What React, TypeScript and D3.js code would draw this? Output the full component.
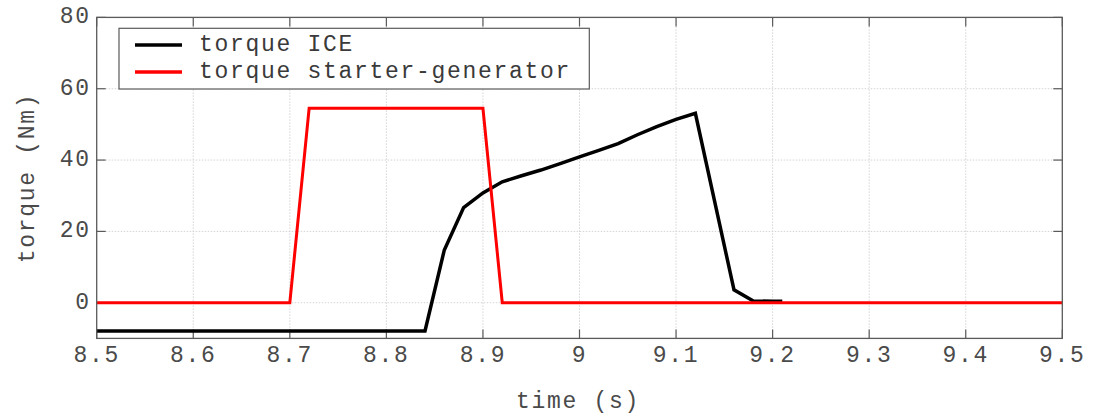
import React from "react";
import * as d3 from "d3";

const xTicks = [8.5, 8.6, 8.7, 8.8, 8.9, 9.0, 9.1, 9.2, 9.3, 9.4, 9.5];
const xTickLabels = ["8.5", "8.6", "8.7", "8.8", "8.9", "9", "9.1", "9.2", "9.3", "9.4", "9.5"];
const yTicks = [0, 20, 40, 60, 80];
const yTickLabels = ["0", "20", "40", "60", "80"];

const iceTime = [8.5, 8.84, 8.86, 8.88, 8.9, 8.92, 8.94, 8.96, 8.98, 9.0, 9.02, 9.04, 9.06, 9.08, 9.1, 9.12, 9.16, 9.18, 9.2, 9.21];
const iceTorque = [-7.9, -7.9, 14.8, 26.7, 30.8, 33.9, 35.6, 37.2, 39.0, 40.9, 42.7, 44.6, 47.1, 49.4, 51.4, 53.1, 3.6, 0.5, 0.4, 0.4];

const sgTime = [8.5, 8.7, 8.72, 8.9, 8.92, 9.5];
const sgTorque = [0, 0, 54.5, 54.5, 0, 0];

const seriesNames = ["torque ICE", "torque starter-generator"];
const seriesColors = ["#000000", "#ff0000"];

export default function App() {
  const W = 1100, H = 415;
  const left = 96.7, right = 1062.3, top = 17.4, bottom = 338.4;
  const x = d3.scaleLinear().domain([8.5, 9.5]).range([left, right]);
  const y = d3.scaleLinear().domain([-10, 80]).range([bottom, top]);
  const line = d3.line<[number, number]>().x(d => x(d[0])).y(d => y(d[1]));
  const iceData: [number, number][] = iceTime.map((t, i) => [t, iceTorque[i]]);
  const sgData: [number, number][] = sgTime.map((t, i) => [t, sgTorque[i]]);
  const font = "'Liberation Mono', 'DejaVu Sans Mono', monospace";
  const axisColor = "#5a5a5a";
  const textColor = "#4a4a4a";
  const ls = 1.7;
  const tickLen = 9;
  const legendX = 119, legendY = 28.3, legendW = 470.3, legendH = 60.7;
  const rowY = [45, 72];

  return (
    <svg width={W} height={H} style={{ position: "absolute", left: 0, top: 0, background: "#fff" }}>
      <rect x={0} y={0} width={W} height={H} fill="#fff" />
      {/* grid */}
      {xTicks.slice(1, -1).map((t, i) => (
        <line key={"gx" + i} x1={x(t)} x2={x(t)} y1={top} y2={bottom} stroke="#d4d4d4" strokeWidth={1} strokeDasharray="1.5,1.5" />
      ))}
      {yTicks.slice(0, -1).map((v, i) => (
        <line key={"gy" + i} x1={left} x2={right} y1={y(v)} y2={y(v)} stroke="#d4d4d4" strokeWidth={1} strokeDasharray="1.5,1.5" />
      ))}
      {/* ticks */}
      {xTicks.map((t, i) => (
        <g key={"tx" + i}>
          <line x1={x(t)} x2={x(t)} y1={bottom} y2={bottom - tickLen} stroke={axisColor} strokeWidth={1.2} />
          <line x1={x(t)} x2={x(t)} y1={top} y2={top + tickLen} stroke={axisColor} strokeWidth={1.2} />
          <text x={x(t)} y={356} textAnchor="middle" dominantBaseline="central" fontFamily={font} fontSize={23} letterSpacing={ls} fill={textColor}>
            {xTickLabels[i]}
          </text>
        </g>
      ))}
      {yTicks.map((v, i) => (
        <g key={"ty" + i}>
          <line x1={left} x2={left + tickLen} y1={y(v)} y2={y(v)} stroke={axisColor} strokeWidth={1.2} />
          <line x1={right} x2={right - tickLen} y1={y(v)} y2={y(v)} stroke={axisColor} strokeWidth={1.2} />
          <text x={left - 6} y={y(v)} textAnchor="end" dominantBaseline="central" fontFamily={font} fontSize={23} letterSpacing={ls} fill={textColor}>
            {yTickLabels[i]}
          </text>
        </g>
      ))}
      {/* series */}
      <path d={line(iceData) || ""} fill="none" stroke={seriesColors[0]} strokeWidth={3.5} strokeLinejoin="miter" />
      <path d={line(sgData) || ""} fill="none" stroke={seriesColors[1]} strokeWidth={3} strokeLinejoin="miter" />
      {/* box */}
      <rect x={left} y={top} width={right - left} height={bottom - top} fill="none" stroke={axisColor} strokeWidth={1.3} />
      {/* legend */}
      <rect x={legendX} y={legendY} width={legendW} height={legendH} fill="#fff" stroke={axisColor} strokeWidth={1.2} />
      {seriesNames.map((n, i) => (
        <g key={"lg" + i}>
          <line x1={135} x2={182} y1={rowY[i]} y2={rowY[i]} stroke={seriesColors[i]} strokeWidth={3.5} />
          <text x={199} y={rowY[i]} dominantBaseline="central" fontFamily={font} fontSize={23} letterSpacing={ls} fill="#3a3a3a">
            {n}
          </text>
        </g>
      ))}
      {/* axis labels */}
      <text x={578} y={402} textAnchor="middle" dominantBaseline="central" fontFamily={font} fontSize={23} letterSpacing={ls} fill={textColor}>
        time (s)
      </text>
      <text transform={`translate(28,${(top + bottom) / 2}) rotate(-90)`} textAnchor="middle" dominantBaseline="central" fontFamily={font} fontSize={23} letterSpacing={ls} fill={textColor}>
        torque (Nm)
      </text>
    </svg>
  );
}
